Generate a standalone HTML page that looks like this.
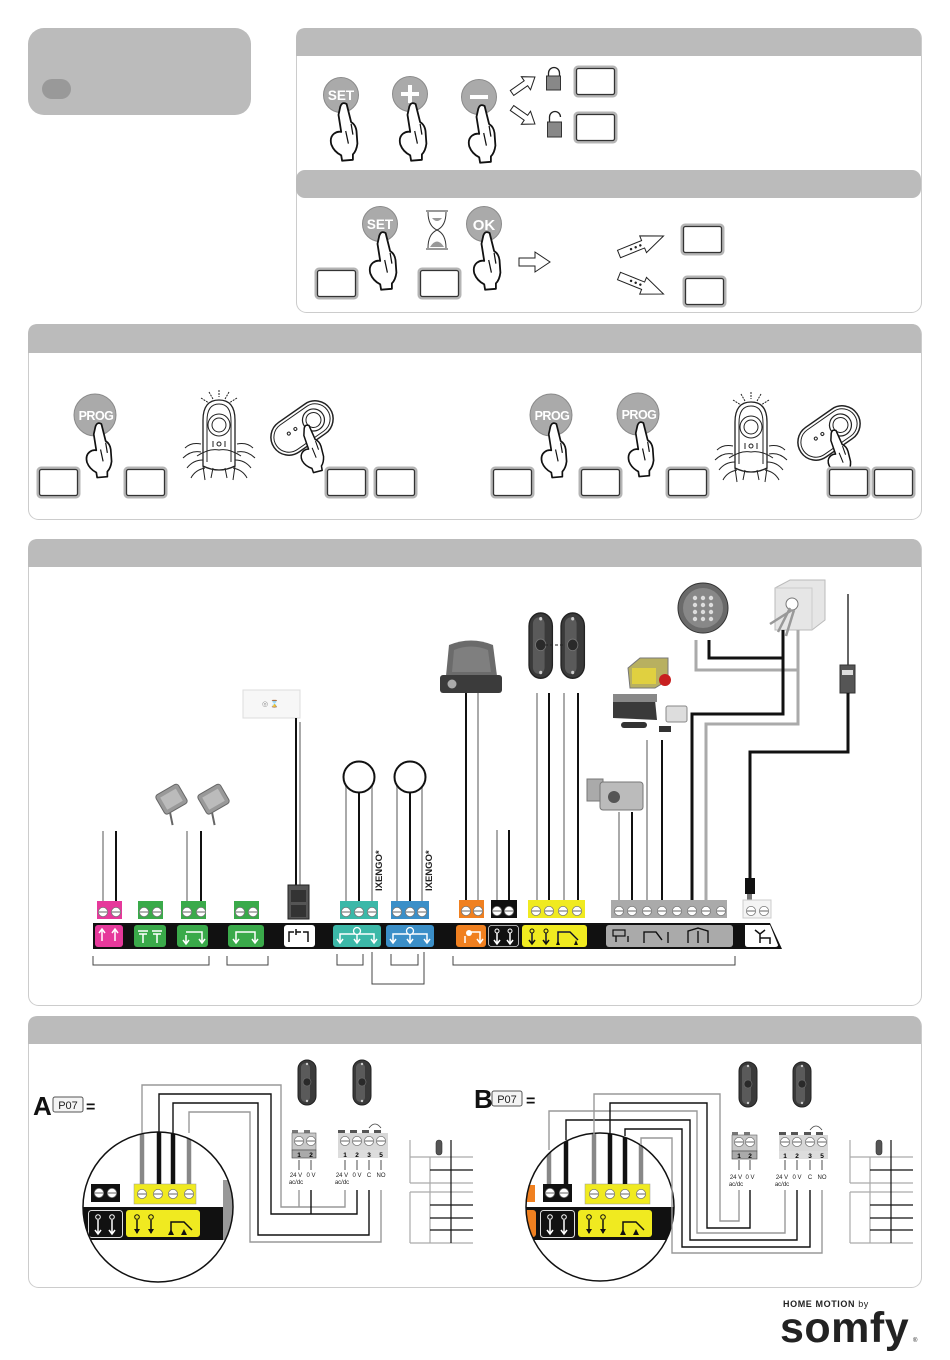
<!DOCTYPE html>
<html><head><meta charset="utf-8"><style>
html,body{margin:0;padding:0;background:#fff;}
svg{display:block;}
text{font-family:"Liberation Sans",sans-serif;}
</style></head><body>
<svg width="950" height="1360" viewBox="0 0 950 1360" xmlns="http://www.w3.org/2000/svg">
<defs>
<g id="hand">
<path d="M-3,3 Q-1,-3 4,0 L9,20 Q14,23 15,30 L16,44 Q15,52 11,56 L11,62 L-1,63 L-2,57 Q-10,53 -13,45 Q-15,37 -10,33 Q-6,30 -2,31 L-5,12 Z" fill="#fff" stroke="#111" stroke-width="2" stroke-linejoin="round"/>
<path d="M3,30 L6,44 M9,22 L11,34" fill="none" stroke="#111" stroke-width="1.4"/>
</g>
<g id="box">
<rect x="0" y="0" width="41" height="29" rx="3" fill="#fff" stroke="#b5b5b5" stroke-width="3"/>
<rect x="1.5" y="1.5" width="38" height="26" rx="2" fill="#fff" stroke="#333" stroke-width="1.3"/>
</g>
<g id="rhands" fill="none" stroke="#222" stroke-width="1">
<path d="M36,2 L36,9 M26,4 L30,11 M46,4 L42,11 M18,10 L26,15 M54,10 L46,15" stroke-dasharray="2,1"/>
<path d="M20,78 V32 Q20,12 36,12 Q52,12 52,32 V78 Q36,86 20,78 Z" fill="#fff" stroke-width="1.3"/>
<path d="M24,74 V33 Q24,16 36,16 Q48,16 48,33 V74"/>
<circle cx="36" cy="37" r="11"/><circle cx="36" cy="37" r="7"/>
<path d="M30,53 V59 M42,53 V59"/><circle cx="36" cy="56" r="2"/>
<path d="M14,68 Q26,60 36,62 Q46,60 58,68" />
<path d="M2,60 Q8,54 18,56 M0,70 Q8,62 18,64 M4,80 Q10,72 20,72 M8,90 Q12,82 22,80 M70,60 Q64,54 54,56 M72,70 Q64,62 54,64 M68,80 Q62,72 52,72 M64,90 Q60,82 50,80 M20,78 L22,92 M52,78 L50,92 M30,80 L28,90 M42,80 L44,90"/>
</g>
<g id="rhand">
<g transform="translate(34,30) rotate(-35)">
<rect x="-34" y="-18" width="68" height="36" rx="18" fill="#fff" stroke="#222" stroke-width="1.5"/>
<rect x="-31" y="-15" width="62" height="30" rx="15" fill="none" stroke="#222" stroke-width="1"/>
<circle cx="14" cy="0" r="11" fill="#fff" stroke="#222" stroke-width="1.2"/>
<circle cx="14" cy="0" r="7.5" fill="none" stroke="#222" stroke-width="1"/>
<circle cx="-14" cy="-3" r="1.5" fill="none" stroke="#222"/><circle cx="-6" cy="-3" r="1.5" fill="none" stroke="#222"/>
</g>
<use href="#hand" transform="translate(38,28) scale(0.75) rotate(-10)"/>
</g>
<g id="scr"><circle r="4.6" fill="#fff" stroke="#777" stroke-width="0.8"/><path d="M-4,0 H4" stroke="#666" stroke-width="1"/></g>
<g id="pcell">
<rect x="0" y="0" width="18" height="45" rx="9" fill="#3a3a3a" stroke="#222"/>
<rect x="3" y="3" width="9" height="39" rx="4.5" fill="#5a5a5a"/>
<circle cx="9" cy="22" r="4" fill="#2a2a2a" stroke="#777" stroke-width="0.6"/>
<circle cx="9" cy="4" r="1.2" fill="#ccc"/><circle cx="9" cy="41" r="1.2" fill="#ccc"/>
</g>
<clipPath id="cA"><circle cx="158" cy="1207" r="75"/></clipPath>
<clipPath id="cB"><circle cx="600" cy="1207" r="74"/></clipPath>
<g id="table" fill="none" stroke-width="1.2">
<path d="M0,0 V43 M0,52 V103 M0,17 H63 M0,43 H63 M0,52 H63 M0,103 H63 M20,17 V103" stroke="#aaa"/>
<path d="M41,0 V103 M20,30 H63 M20,65 H63 M20,78 H63 M20,90 H63" stroke="#111"/>
<rect x="26" y="0" width="6" height="15" rx="3" fill="#555" stroke="#333" stroke-width="0.6"/>
</g>
</defs>

<!-- top left box -->
<rect x="28" y="28" width="223" height="87" rx="16" fill="#bbb"/>
<rect x="42" y="79" width="29" height="20" rx="10" fill="#999"/>

<!-- section 1 -->
<rect x="296.5" y="28.5" width="625" height="284" rx="10" fill="#fff" stroke="#ccc"/>
<path d="M296,56 V38 Q296,28 306,28 H911 Q921,28 921,38 V56 Z" fill="#bbb"/>
<rect x="296" y="170" width="625" height="28" rx="9" fill="#bbb"/>

<circle cx="341" cy="95" r="17.5" fill="#aaa" stroke="#8a8a8a"/>
<text x="341" y="100" font-size="13.5" font-weight="bold" fill="#fff" text-anchor="middle">SET</text>
<use href="#hand" transform="translate(343,104) scale(0.9)"/>
<circle cx="410" cy="94" r="17.5" fill="#aaa" stroke="#8a8a8a"/>
<path d="M410,85 V103 M401,94 H419" stroke="#fff" stroke-width="4"/>
<use href="#hand" transform="translate(412,104) scale(0.9)"/>
<circle cx="479" cy="97" r="17.5" fill="#aaa" stroke="#8a8a8a"/>
<path d="M470,97 H488" stroke="#fff" stroke-width="4"/>
<use href="#hand" transform="translate(481,106) scale(0.9)"/>

<polygon points="0,-3 17,-3 17,-8 28,0 17,8 17,3 0,3" transform="translate(512,93) rotate(-35)" fill="#fff" stroke="#222" stroke-width="1"/>
<polygon points="0,-3 17,-3 17,-8 28,0 17,8 17,3 0,3" transform="translate(512,108) rotate(35)" fill="#fff" stroke="#222" stroke-width="1"/>
<path d="M548.5,77 V73 A5.5,5.5 0 0 1 559.5,73 V77" fill="none" stroke="#222" stroke-width="1.3"/>
<rect x="546.5" y="76" width="14" height="14" fill="#888" stroke="#333"/>
<path d="M549.5,122 V117 A5.5,5.5 0 0 1 560.5,117" fill="none" stroke="#222" stroke-width="1.3"/>
<rect x="547.5" y="122" width="14" height="15" fill="#888" stroke="#333"/>
<use href="#box" transform="translate(575,67)"/>
<use href="#box" transform="translate(575,113)"/>

<!-- section 2 -->
<circle cx="380" cy="224" r="17.5" fill="#aaa" stroke="#8a8a8a"/>
<text x="380" y="229" font-size="13.5" font-weight="bold" fill="#fff" text-anchor="middle">SET</text>
<use href="#hand" transform="translate(382,233) scale(0.9)"/>
<path d="M426,211 H448 M426,249 H448 M428,212 Q428,226 437,230 Q446,226 446,212 M428,248 Q428,234 437,230 Q446,234 446,248" fill="none" stroke="#333" stroke-width="1"/>
<path d="M430,247 Q437,236 444,247 Z M432,218 Q437,224 442,218 Z" fill="#999"/>
<circle cx="484" cy="224" r="17.5" fill="#aaa" stroke="#8a8a8a"/>
<text x="484" y="230" font-size="15" font-weight="bold" fill="#fff" text-anchor="middle">OK</text>
<use href="#hand" transform="translate(486,233) scale(0.9)"/>
<use href="#box" transform="translate(316,269)"/>
<use href="#box" transform="translate(419,269)"/>
<polygon points="0,-4 16,-4 16,-10 31,0 16,10 16,4 0,4" transform="translate(519,262)" fill="#fff" stroke="#222"/>
<g transform="translate(619,254) rotate(-22)">
<polygon points="0,-4 26,-4 26,-9 48,0 26,9 26,4 0,4" fill="#fff" stroke="#222"/>
<circle cx="13" cy="0" r="1.2" fill="#222"/><circle cx="18" cy="0" r="1.2" fill="#222"/><circle cx="23" cy="0" r="1.2" fill="#222"/>
</g>
<g transform="translate(619,276) rotate(22)">
<polygon points="0,-4 26,-4 26,-9 48,0 26,9 26,4 0,4" fill="#fff" stroke="#222"/>
<circle cx="13" cy="0" r="1.2" fill="#222"/><circle cx="18" cy="0" r="1.2" fill="#222"/><circle cx="23" cy="0" r="1.2" fill="#222"/>
</g>
<use href="#box" transform="translate(682,225)"/>
<use href="#box" transform="translate(684,277)"/>

<!-- section 3 -->
<rect x="28.5" y="324.5" width="893" height="195" rx="10" fill="#fff" stroke="#ccc"/>
<path d="M28,353 V334 Q28,324 38,324 H911 Q921,324 921,334 V353 Z" fill="#bbb"/>
<circle cx="95" cy="415" r="21" fill="#aaa" stroke="#8a8a8a"/>
<text x="96" y="420" font-size="12.5" font-weight="bold" fill="#fff" text-anchor="middle" letter-spacing="-0.5">PROG</text>
<use href="#hand" transform="translate(98,424) scale(0.85)"/>
<use href="#box" transform="translate(38,468)"/>
<use href="#box" transform="translate(125,468)"/>
<use href="#rhands" transform="translate(183,388)"/>
<use href="#rhand" transform="translate(268,398)"/>
<use href="#box" transform="translate(326,468)"/>
<use href="#box" transform="translate(375,468)"/>

<circle cx="551" cy="415" r="21" fill="#aaa" stroke="#8a8a8a"/>
<text x="552" y="420" font-size="12.5" font-weight="bold" fill="#fff" text-anchor="middle" letter-spacing="-0.5">PROG</text>
<use href="#hand" transform="translate(553,424) scale(0.85)"/>
<circle cx="638" cy="414" r="21" fill="#aaa" stroke="#8a8a8a"/>
<text x="639" y="419" font-size="12.5" font-weight="bold" fill="#fff" text-anchor="middle" letter-spacing="-0.5">PROG</text>
<use href="#hand" transform="translate(640,423) scale(0.85)"/>
<use href="#box" transform="translate(492,468)"/>
<use href="#box" transform="translate(580,468)"/>
<use href="#box" transform="translate(667,468)"/>
<use href="#rhands" transform="translate(715,390)"/>
<use href="#rhand" transform="translate(795,403) scale(1)"/>
<use href="#box" transform="translate(828,468)"/>
<use href="#box" transform="translate(873,468)"/>

<!-- section 4 -->
<rect x="28.5" y="539.5" width="893" height="466" rx="10" fill="#fff" stroke="#ccc"/>
<path d="M28,567 V549 Q28,539 38,539 H911 Q921,539 921,549 V567 Z" fill="#bbb"/>

<!-- devices -->
<rect x="243" y="690" width="57" height="28" fill="#f7f7f7" stroke="#ddd"/>
<text x="262" y="706" font-size="7" fill="#888">◎ ⌛</text>
<g transform="translate(172,800) rotate(-30)"><rect x="-13" y="-12" width="26" height="22" rx="3" fill="#999" stroke="#666"/><rect x="-9" y="-8" width="18" height="14" fill="#bbb"/><path d="M-8,10 L-12,22" stroke="#666" stroke-width="2"/></g>
<g transform="translate(214,800) rotate(-30)"><rect x="-13" y="-12" width="26" height="22" rx="3" fill="#999" stroke="#666"/><rect x="-9" y="-8" width="18" height="14" fill="#bbb"/><path d="M-8,10 L-12,22" stroke="#666" stroke-width="2"/></g>
<path d="M446,676 L449,645 Q471,636 493,645 L497,676 Z" fill="#6b6b6b"/>
<path d="M452,672 L454,650 Q471,643 488,650 L491,672 Z" fill="#888" opacity="0.7"/>
<rect x="440" y="675" width="62" height="18" rx="3" fill="#3b3b3b"/>
<circle cx="452" cy="684" r="4.5" fill="#aaa"/>
<use href="#pcell" transform="translate(529,613) scale(1.3,1.45)"/>
<use href="#pcell" transform="translate(561,613) scale(1.3,1.45)"/>
<path d="M545,645 H565" stroke="#222" stroke-dasharray="3,2"/>
<path d="M628,668 L640,658 H668 V680 L655,688 H630 Z" fill="#b8b060" stroke="#777"/>
<rect x="632" y="668" width="24" height="16" fill="#e0d040"/>
<circle cx="665" cy="680" r="6" fill="#c82020"/>
<path d="M613,697 L655,700 L657,720 L613,718 Z" fill="#3a3a3a"/>
<rect x="613" y="694" width="44" height="8" fill="#888"/>
<rect x="621" y="722" width="26" height="6" rx="3" fill="#333"/>
<rect x="666" y="706" width="21" height="16" rx="2" fill="#ddd" stroke="#888"/>
<rect x="659" y="726" width="12" height="6" fill="#333"/>
<rect x="587" y="779" width="16" height="22" fill="#aaa" stroke="#777"/>
<rect x="600" y="782" width="43" height="28" rx="3" fill="#bbb" stroke="#777"/>
<circle cx="614" cy="797" r="6" fill="#555"/>
<circle cx="703" cy="608" r="25" fill="#6a6a6a" stroke="#333"/>
<circle cx="703" cy="608" r="20" fill="#888"/>
<g fill="#ddd"><circle cx="695" cy="598" r="2.2"/><circle cx="703" cy="598" r="2.2"/><circle cx="711" cy="598" r="2.2"/><circle cx="695" cy="605" r="2.2"/><circle cx="703" cy="605" r="2.2"/><circle cx="711" cy="605" r="2.2"/><circle cx="695" cy="612" r="2.2"/><circle cx="703" cy="612" r="2.2"/><circle cx="711" cy="612" r="2.2"/><circle cx="695" cy="619" r="2.2"/><circle cx="703" cy="619" r="2.2"/><circle cx="711" cy="619" r="2.2"/></g>
<path d="M775,588 L790,580 H825 V620 L812,630 H775 Z" fill="#e6e6e6" stroke="#bbb"/>
<path d="M775,588 H812 V630" fill="none" stroke="#ccc"/>
<circle cx="792" cy="604" r="6" fill="#fff" stroke="#777"/>
<path d="M790,608 L778,632 M794,610 L786,636 M792,610 L770,624" stroke="#999" stroke-width="2.5"/>
<path d="M848,594 V665" stroke="#333" stroke-width="1.5"/>
<rect x="840" y="665" width="15" height="28" fill="#555" stroke="#333"/>
<rect x="842" y="670" width="11" height="5" fill="#ddd"/>

<!-- wires -->
<g fill="none" stroke-width="2">
<path d="M103,831 V901 M187,831 V901 M300,722 V885 M346,785 V901 M372,785 V901 M397,785 V901 M422,785 V901 M478,693 V900 M497,830 V900 M537,693 V900 M564,693 V900 M619,812 V900 M647,740 V900" stroke="#aaa"/>
<path d="M116,831 V901 M201,831 V901 M296,718 V885 M359,793 V901 M410,793 V901 M466,693 V900 M509,830 V900 M549,693 V900 M578,693 V900 M632,812 V900 M662,740 V900" stroke="#111"/>
<path d="M696,640 V670 H798 M798,630 V724 H706 V900" stroke="#aaa" stroke-width="3"/>
<path d="M709,640 V658 H783 M783,630 V714 H692 V900" stroke="#111" stroke-width="3"/>
<path d="M848,693 V752 H750 V880" stroke="#111" stroke-width="3"/>
</g>
<circle cx="359" cy="777" r="15.5" fill="#fff" stroke="#111" stroke-width="2"/>
<circle cx="410" cy="777" r="15.5" fill="#fff" stroke="#111" stroke-width="2"/>
<text transform="translate(382,891) rotate(-90)" font-size="9.5" font-weight="bold" fill="#222">IXENGO*</text>
<text transform="translate(432,891) rotate(-90)" font-size="9.5" font-weight="bold" fill="#222">IXENGO*</text>
<rect x="288" y="885" width="21" height="34" fill="#555" stroke="#222"/>
<rect x="291" y="890" width="15" height="12" fill="#333"/>
<rect x="291" y="905" width="15" height="12" fill="#333"/>
<rect x="745" y="878" width="10" height="16" fill="#111"/>
<rect x="747" y="894" width="5" height="10" fill="#777"/>

<!-- terminals -->
<rect x="97" y="901" width="25" height="18" fill="#e6399b"/>
<rect x="138" y="901" width="25" height="18" fill="#3aaa4a"/>
<rect x="181" y="901" width="25" height="18" fill="#3aaa4a"/>
<rect x="234" y="901" width="25" height="18" fill="#3aaa4a"/>
<rect x="340" y="901" width="38" height="18" fill="#3cb8a8"/>
<rect x="391" y="901" width="38" height="18" fill="#3b8fc8"/>
<rect x="459" y="900" width="25" height="18" fill="#f08020"/>
<rect x="491" y="900" width="26" height="18" fill="#111"/>
<rect x="528" y="900" width="57" height="18" fill="#f0ea20"/>
<rect x="611" y="900" width="116" height="18" fill="#aaa"/>
<rect x="743" y="900" width="28" height="18" fill="#f4f4f4" stroke="#ccc"/>
<g>
<use href="#scr" x="103" y="912"/><use href="#scr" x="116" y="912"/>
<use href="#scr" x="144" y="912"/><use href="#scr" x="157" y="912"/>
<use href="#scr" x="187" y="912"/><use href="#scr" x="201" y="912"/>
<use href="#scr" x="240" y="912"/><use href="#scr" x="253" y="912"/>
<use href="#scr" x="346" y="912"/><use href="#scr" x="359" y="912"/><use href="#scr" x="372" y="912"/>
<use href="#scr" x="397" y="912"/><use href="#scr" x="410" y="912"/><use href="#scr" x="422" y="912"/>
<use href="#scr" x="466" y="911"/><use href="#scr" x="478" y="911"/>
<use href="#scr" x="497" y="911"/><use href="#scr" x="509" y="911"/>
<use href="#scr" x="536" y="911"/><use href="#scr" x="549" y="911"/><use href="#scr" x="563" y="911"/><use href="#scr" x="577" y="911"/>
<use href="#scr" x="619" y="911"/><use href="#scr" x="632" y="911"/><use href="#scr" x="647" y="911"/><use href="#scr" x="662" y="911"/><use href="#scr" x="677" y="911"/><use href="#scr" x="692" y="911"/><use href="#scr" x="706" y="911"/><use href="#scr" x="721" y="911"/>
<use href="#scr" x="751" y="911"/><use href="#scr" x="764" y="911"/>
</g>
<path d="M93,923 H770 L782,949 H93 Z" fill="#111"/>
<rect x="95" y="925" width="28" height="22" rx="3" fill="#e6399b"/>
<rect x="134" y="925" width="32" height="22" rx="3" fill="#3aaa4a"/>
<rect x="177" y="925" width="31" height="22" rx="3" fill="#3aaa4a"/>
<rect x="228" y="925" width="36" height="22" rx="3" fill="#3aaa4a"/>
<rect x="284" y="925" width="31" height="22" rx="3" fill="#fff"/>
<rect x="333" y="925" width="48" height="22" rx="3" fill="#3cb8a8"/>
<rect x="386" y="925" width="48" height="22" rx="3" fill="#3b8fc8"/>
<rect x="456" y="925" width="30" height="22" rx="3" fill="#f08020"/>
<rect x="488.5" y="925.5" width="30" height="21" rx="3" fill="#111" stroke="#ddd" stroke-width="0.8"/>
<rect x="522" y="925" width="65" height="22" rx="3" fill="#f0ea20"/>
<rect x="606" y="925" width="127" height="22" rx="3" fill="#aaa"/>
<path d="M745,925 H770 L778,945 Q778,947 775,947 H748 Q745,947 745,944 Z" fill="#fff"/>
<!-- icons -->
<g fill="none" stroke="#fff" stroke-width="1.5">
<path d="M102,941 V930 M99,933 L102,929 L105,933 M115,941 V930 M112,933 L115,929 L118,933"/>
<path d="M138,931 H148 M139,934 H147 M143,934 V943 M152,931 H162 M153,934 H161 M157,934 V943"/>
<path d="M186,932 H202 V942 M199,939 L202,943 L205,939 M186,935 V943 M183,940 L186,944 L189,940"/>
<path d="M236,942 V932 H255 V942 M233,939 L236,943 L239,939 M252,939 L255,943 L258,939"/>
<path d="M340,942 V934 H374 V942 M357,934 V942 M337,939 L340,943 L343,939 M354,939 L357,943 L360,939 M371,939 L374,943 L377,939"/>
<path d="M393,942 V934 H427 V942 M410,934 V942 M390,939 L393,943 L396,939 M407,939 L410,943 L413,939 M424,939 L427,943 L430,939"/>
<path d="M470,932 H480 V942 M477,939 L480,943 L483,939 M465,936 V943"/>
<path d="M497,933 V943 M494,940 L497,944 L500,940 M510,933 V943 M507,940 L510,944 L513,940"/>
<path d="M532,933 V943 M546,933 V943 M558,942 V932 H570 L578,940"/>
<path d="M616,942 V936 M628,942 V936 M644,943 V932 H656 L662,940 M668,943 V932 M688,943 V931 L698,928 L708,931 V943 M698,931 V943"/>
</g>
<circle cx="357" cy="931" r="3.5" fill="#3cb8a8" stroke="#fff" stroke-width="1.3"/>
<circle cx="410" cy="931" r="3.5" fill="#3b8fc8" stroke="#fff" stroke-width="1.3"/>
<circle cx="469" cy="933" r="3" fill="#fff"/>
<circle cx="497" cy="931" r="2" fill="none" stroke="#fff"/><circle cx="510" cy="931" r="2" fill="none" stroke="#fff"/>
<circle cx="532" cy="931" r="2" fill="none" stroke="#111"/><circle cx="546" cy="931" r="2" fill="none" stroke="#111"/>
<path d="M532,933 V943 M546,933 V943 M558,942 V932 H570 L578,940 M529,940 L532,944 L535,940 M543,940 L546,944 L549,940" fill="none" stroke="#111" stroke-width="1.5"/>
<path d="M556,945 L558,940 L560,945 Z M574,945 L576,940 L578,945 Z" fill="#111"/>
<path d="M616,942 V936 M628,942 V936 M644,943 V932 H656 L662,940 M668,943 V932 M688,943 V931 L698,928 L708,931 V943 M698,931 V943" fill="none" stroke="#111" stroke-width="1.5"/>
<rect x="613" y="930" width="12" height="6" fill="none" stroke="#111" stroke-width="1.2"/>
<path d="M289,942 V932 H294 M296,932 H301 M303,932 H308 V942 M296,929 V935" fill="none" stroke="#111" stroke-width="1.5"/>
<path d="M755,930 L760,934 L765,930 M760,934 V943 M760,938 H770 V944" fill="none" stroke="#111" stroke-width="1.5"/>
<!-- brackets -->
<g fill="none" stroke="#444" stroke-width="1">
<path d="M93,956 V965 H209 V956 M227,956 V965 H268 V956 M337,954 V965 H363 V954 M391,954 V965 H418 V954 M372,952 V984 H424 V952 M453,956 V965 H735 V956"/>
</g>

<!-- section 5 -->
<rect x="28.5" y="1016.5" width="893" height="271" rx="10" fill="#fff" stroke="#ccc"/>
<path d="M28,1044 V1026 Q28,1016 38,1016 H911 Q921,1016 921,1026 V1044 Z" fill="#bbb"/>

<!-- A -->
<text x="33" y="1115" font-size="26" font-weight="bold" fill="#111" font-family="Liberation Sans Narrow, Liberation Sans, sans-serif">A</text>
<rect x="53" y="1097" width="30" height="15" rx="2" fill="#f4f4f4" stroke="#555"/>
<text x="68" y="1109" font-size="11" fill="#222" text-anchor="middle" font-family="Liberation Mono, monospace">P07</text>
<text x="86" y="1112" font-size="16" font-weight="bold" fill="#111">=</text>
<g clip-path="url(#cA)">
<rect x="80" y="1130" width="160" height="155" fill="#fff"/>
<rect x="80" y="1207" width="160" height="33" fill="#111"/>
<rect x="223" y="1180" width="14" height="60" fill="#999"/>
<rect x="91" y="1184" width="29" height="18" fill="#111"/>
<use href="#scr" x="99" y="1193"/><use href="#scr" x="112" y="1193"/>
<rect x="134" y="1184" width="62" height="20" fill="#f0ea20" stroke="#999" stroke-width="0.5"/>
<use href="#scr" x="142" y="1194"/><use href="#scr" x="158" y="1194"/><use href="#scr" x="173" y="1194"/><use href="#scr" x="189" y="1194"/>
<rect x="88.5" y="1210.5" width="34" height="27" rx="3" fill="#111" stroke="#ddd"/>
<rect x="126" y="1210" width="74" height="27" rx="3" fill="#f0ea20"/>
<path d="M98,1220 V1233 M95,1230 L98,1234 L101,1230 M112,1220 V1233 M109,1230 L112,1234 L115,1230" fill="none" stroke="#fff" stroke-width="1.5"/>
<circle cx="98" cy="1217" r="2.3" fill="none" stroke="#fff"/><circle cx="112" cy="1217" r="2.3" fill="none" stroke="#fff"/>
<path d="M137,1220 V1233 M151,1220 V1233 M171,1234 V1222 H184 L192,1230" fill="none" stroke="#111" stroke-width="1.5"/>
<circle cx="137" cy="1217" r="2.3" fill="none" stroke="#111"/><circle cx="151" cy="1217" r="2.3" fill="none" stroke="#111"/>
<path d="M134,1229 L137,1234 L140,1229 Z M148,1229 L151,1234 L154,1229 Z M168,1235 L171,1229 L174,1235 Z M181,1235 L184,1229 L187,1235 Z" fill="#111"/>
<path d="M142,1184 V1120 M189,1184 V1120" stroke="#888" stroke-width="4.5"/>
<path d="M159,1184 V1120 M173,1184 V1120" stroke="#111" stroke-width="4.5"/>
</g>
<circle cx="158" cy="1207" r="75" fill="none" stroke="#111" stroke-width="1.5"/>
<g fill="none" stroke-width="1.4">
<path d="M142,1133 V1085 H281 V1207 H345 V1190 M299,1207 V1190" stroke="#999"/>
<path d="M159,1133 V1094 H271 V1214 H357 V1190 M311,1214 V1190" stroke="#111"/>
<path d="M173,1133 V1103 H258 V1235 H369 V1190" stroke="#111"/>
<path d="M189,1133 V1112 H250 V1242 H381 V1190" stroke="#999"/>
<path d="M299,1160 V1170 M311,1160 V1170 M345,1160 V1170 M357,1160 V1170 M369,1160 V1170 M381,1160 V1170" stroke="#222" stroke-width="0.8"/>
</g>
<use href="#pcell" x="298" y="1060"/>
<use href="#pcell" x="353" y="1060"/>
<g>
<rect x="292" y="1130" width="6" height="3" fill="#777"/><rect x="304" y="1130" width="6" height="3" fill="#777"/>
<rect x="292" y="1133" width="24" height="17" fill="#c8c8c8" stroke="#666" stroke-width="0.6"/>
<use href="#scr" x="299" y="1141"/><use href="#scr" x="311" y="1141"/>
<rect x="292" y="1150" width="24" height="8" fill="#aaa" stroke="#444" stroke-width="0.6"/>
<text x="299" y="1157" font-size="6.5" font-weight="bold" text-anchor="middle">1</text><text x="311" y="1157" font-size="6.5" font-weight="bold" text-anchor="middle">2</text>
<rect x="338" y="1130" width="7" height="3" fill="#555"/><rect x="350" y="1130" width="7" height="3" fill="#555"/><rect x="362" y="1130" width="7" height="3" fill="#555"/><rect x="374" y="1130" width="7" height="3" fill="#555"/>
<path d="M369,1128 Q375,1120 381,1128" fill="none" stroke="#444" stroke-width="0.8"/>
<rect x="338" y="1133" width="50" height="17" fill="#d8d8d8"/>
<use href="#scr" x="345" y="1141"/><use href="#scr" x="357" y="1141"/><use href="#scr" x="369" y="1141"/><use href="#scr" x="381" y="1141"/>
<rect x="338" y="1150" width="50" height="8" fill="#ddd"/>
<text x="345" y="1157" font-size="6.5" font-weight="bold" text-anchor="middle">1</text><text x="357" y="1157" font-size="6.5" font-weight="bold" text-anchor="middle">2</text><text x="369" y="1157" font-size="6.5" font-weight="bold" text-anchor="middle">3</text><text x="381" y="1157" font-size="6.5" font-weight="bold" text-anchor="middle">5</text>
</g>
<g font-size="6" fill="#222" text-anchor="middle">
<text x="296" y="1177">24 V</text><text x="296" y="1184">ac/dc</text><text x="311" y="1177">0 V</text>
<text x="342" y="1177">24 V</text><text x="342" y="1184">ac/dc</text><text x="357" y="1177">0 V</text><text x="369" y="1177">C</text><text x="381" y="1177">NO</text>
</g>
<use href="#table" transform="translate(410,1140)"/>

<!-- B -->
<text x="474" y="1108" font-size="26" font-weight="bold" fill="#111" font-family="Liberation Sans Narrow, Liberation Sans, sans-serif">B</text>
<rect x="492" y="1091" width="30" height="15" rx="2" fill="#f4f4f4" stroke="#555"/>
<text x="507" y="1103" font-size="11" fill="#222" text-anchor="middle" font-family="Liberation Mono, monospace">P07</text>
<text x="526" y="1106" font-size="16" font-weight="bold" fill="#111">=</text>
<g clip-path="url(#cB)">
<rect x="520" y="1130" width="160" height="155" fill="#fff"/>
<rect x="520" y="1207" width="160" height="33" fill="#111"/>
<rect x="520" y="1185" width="15" height="17" fill="#f08020"/>
<rect x="520" y="1210" width="16" height="27" rx="3" fill="#f08020"/>
<rect x="543" y="1184" width="29" height="18" fill="#111"/>
<use href="#scr" x="550" y="1193"/><use href="#scr" x="564" y="1193"/>
<rect x="585" y="1184" width="65" height="20" fill="#f0ea20" stroke="#999" stroke-width="0.5"/>
<use href="#scr" x="594" y="1194"/><use href="#scr" x="610" y="1194"/><use href="#scr" x="625" y="1194"/><use href="#scr" x="641" y="1194"/>
<rect x="540.5" y="1210.5" width="34" height="27" rx="3" fill="#111" stroke="#ddd"/>
<rect x="578" y="1210" width="74" height="27" rx="3" fill="#f0ea20"/>
<path d="M550,1220 V1233 M547,1230 L550,1234 L553,1230 M564,1220 V1233 M561,1230 L564,1234 L567,1230" fill="none" stroke="#fff" stroke-width="1.5"/>
<circle cx="550" cy="1217" r="2.3" fill="none" stroke="#fff"/><circle cx="564" cy="1217" r="2.3" fill="none" stroke="#fff"/>
<path d="M589,1220 V1233 M603,1220 V1233 M623,1234 V1222 H636 L644,1230" fill="none" stroke="#111" stroke-width="1.5"/>
<circle cx="589" cy="1217" r="2.3" fill="none" stroke="#111"/><circle cx="603" cy="1217" r="2.3" fill="none" stroke="#111"/>
<path d="M586,1229 L589,1234 L592,1229 Z M600,1229 L603,1234 L606,1229 Z M620,1235 L623,1229 L626,1235 Z M633,1235 L636,1229 L639,1235 Z" fill="#111"/>
<path d="M549,1184 V1120 M594,1184 V1120 M641,1184 V1120" stroke="#888" stroke-width="4.5"/>
<path d="M566,1184 V1120 M610,1184 V1120 M625,1184 V1120" stroke="#111" stroke-width="4.5"/>
</g>
<circle cx="600" cy="1207" r="74" fill="none" stroke="#111" stroke-width="1.5"/>
<g fill="none" stroke-width="1.4">
<path d="M549,1150 V1111 H697 V1233 H785 V1190" stroke="#999"/>
<path d="M566,1140 V1120 H690 V1240 H797 V1190" stroke="#111"/>
<path d="M594,1135 V1094 H720 V1221 H739 V1190" stroke="#999"/>
<path d="M610,1134 V1103 H707 V1228 H750 V1190" stroke="#111"/>
<path d="M625,1136 V1129 H682 V1247 H810 V1190" stroke="#111"/>
<path d="M641,1145 V1138 H672 V1253 H822 V1190" stroke="#999"/>
<path d="M739,1160 V1170 M750,1160 V1170 M785,1160 V1170 M797,1160 V1170 M810,1160 V1170 M822,1160 V1170" stroke="#222" stroke-width="0.8"/>
</g>
<use href="#pcell" x="739" y="1062"/>
<use href="#pcell" x="793" y="1062"/>
<g>
<rect x="732" y="1132" width="6" height="3" fill="#777"/><rect x="744" y="1132" width="6" height="3" fill="#777"/>
<rect x="732" y="1135" width="25" height="16" fill="#c8c8c8" stroke="#666" stroke-width="0.6"/>
<use href="#scr" x="739" y="1142"/><use href="#scr" x="750" y="1142"/>
<rect x="732" y="1151" width="25" height="8" fill="#aaa" stroke="#444" stroke-width="0.6"/>
<text x="739" y="1158" font-size="6.5" font-weight="bold" text-anchor="middle">1</text><text x="750" y="1158" font-size="6.5" font-weight="bold" text-anchor="middle">2</text>
<rect x="779" y="1132" width="7" height="3" fill="#555"/><rect x="791" y="1132" width="7" height="3" fill="#555"/><rect x="804" y="1132" width="7" height="3" fill="#555"/><rect x="816" y="1132" width="7" height="3" fill="#555"/>
<path d="M810,1130 Q816,1122 822,1130" fill="none" stroke="#444" stroke-width="0.8"/>
<rect x="779" y="1135" width="49" height="16" fill="#d8d8d8"/>
<use href="#scr" x="785" y="1142"/><use href="#scr" x="797" y="1142"/><use href="#scr" x="810" y="1142"/><use href="#scr" x="822" y="1142"/>
<rect x="779" y="1151" width="49" height="8" fill="#ddd"/>
<text x="785" y="1158" font-size="6.5" font-weight="bold" text-anchor="middle">1</text><text x="797" y="1158" font-size="6.5" font-weight="bold" text-anchor="middle">2</text><text x="810" y="1158" font-size="6.5" font-weight="bold" text-anchor="middle">3</text><text x="822" y="1158" font-size="6.5" font-weight="bold" text-anchor="middle">5</text>
</g>
<g font-size="6" fill="#222" text-anchor="middle">
<text x="736" y="1179">24 V</text><text x="736" y="1186">ac/dc</text><text x="750" y="1179">0 V</text>
<text x="782" y="1179">24 V</text><text x="782" y="1186">ac/dc</text><text x="797" y="1179">0 V</text><text x="810" y="1179">C</text><text x="822" y="1179">NO</text>
</g>
<use href="#table" transform="translate(850,1140)"/>

<!-- logo -->
<text x="783" y="1307" font-size="9" font-weight="bold" fill="#222" letter-spacing="0.6">HOME MOTION <tspan font-weight="normal">by</tspan></text>
<text x="780" y="1342" font-size="43" font-weight="bold" fill="#222" letter-spacing="0.5">somfy</text>
<text x="913" y="1342" font-size="6" fill="#222">®</text>
</svg>
</body></html>
